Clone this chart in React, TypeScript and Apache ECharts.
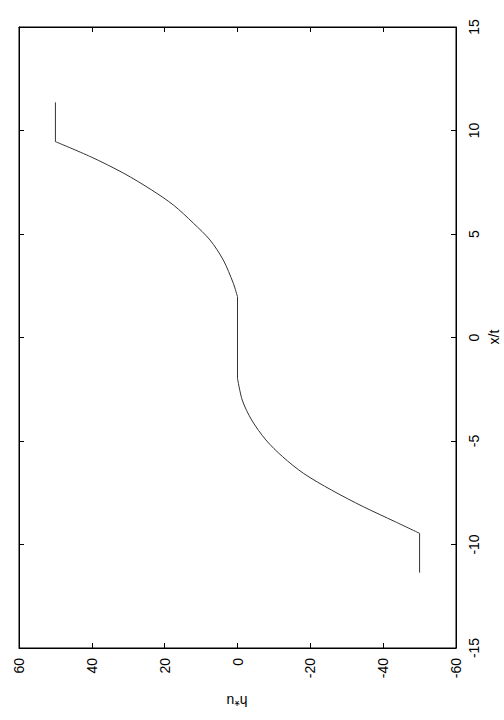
import React, { useEffect, useRef } from "react";
import * as echarts from "echarts";

// x/t values and h*u values
const xtTopFlat = [9.46, 11.36];
const huTopFlat = [50, 50];

const xtUpper = [1.97, 2.62, 3.74, 4.71, 5.52, 6.4, 7.13, 7.93, 8.73, 9.46];
const huUpper = [0, 1.15, 3.9, 7.55, 12.1, 17.6, 23.6, 31.2, 40.3, 50];

const xtMidFlat = [-1.97, 1.97];
const huMidFlat = [0, 0];

const xtLower = [-9.46, -8.9, -8.17, -7.37, -6.56, -5.76, -4.95, -3.99, -3.02, -1.97];
const huLower = [-50, -43.3, -34.5, -25.8, -18.1, -12.4, -7.8, -3.9, -1.3, 0];

const xtBottomFlat = [-11.36, -9.46];
const huBottomFlat = [-50, -50];

const huTicks = { min: -60, max: 60, interval: 20 };
const xtTicks = { min: -15, max: 15, interval: 5 };

const FONT = "Liberation Sans";

function pairs(hu: number[], xt: number[]) {
  return hu.map((h, i) => [h, xt[i]]);
}

export default function App() {
  const ref = useRef<HTMLDivElement>(null);
  useEffect(() => {
    if (!ref.current) return;
    const chart = echarts.init(ref.current, null, { renderer: "svg" });
    const axisLine = { show: true, onZero: false, lineStyle: { color: "#000", width: 1 } };
    const axisTick = { show: true, inside: true, length: 5, lineStyle: { color: "#000", width: 1 } };
    const label = { rotate: 90, fontSize: 14, color: "#000", fontFamily: FONT };
    const lineStyle = { color: "#333", width: 1 };
    const mk = (hu: number[], xt: number[], smooth: boolean | number) => ({
      type: "line",
      data: pairs(hu, xt),
      showSymbol: false,
      symbol: "none",
      smooth,
      lineStyle,
      xAxisIndex: 0,
      yAxisIndex: 0,
    });
    chart.setOption({
      animation: false,
      backgroundColor: "#fff",
      grid: {
        left: 19,
        right: 48,
        top: 27,
        bottom: 72,
        show: true,
        borderColor: "#000",
        borderWidth: 1,
      },
      xAxis: [
        {
          type: "value",
          position: "bottom",
          inverse: true,
          ...huTicks,
          axisLine,
          axisTick,
          axisLabel: { ...label, margin: 10 },
          splitLine: { show: false },
        },
        {
          type: "value",
          position: "top",
          inverse: true,
          ...huTicks,
          axisLine,
          axisTick,
          axisLabel: { show: false },
          splitLine: { show: false },
        },
      ],
      yAxis: [
        {
          type: "value",
          position: "right",
          ...xtTicks,
          axisLine,
          axisTick,
          axisLabel: { ...label, margin: 11 },
          splitLine: { show: false },
        },
        {
          type: "value",
          position: "left",
          ...xtTicks,
          axisLine,
          axisTick,
          axisLabel: { show: false },
          splitLine: { show: false },
        },
      ],
      graphic: [
        {
          type: "text",
          x: 237,
          y: 701,
          rotation: Math.PI,
          style: {
            text: "h*u",
            fontSize: 14,
            fontFamily: FONT,
            fill: "#000",
            align: "center",
            verticalAlign: "middle",
          },
        },
        {
          type: "text",
          x: 494,
          y: 337,
          rotation: Math.PI / 2,
          style: {
            text: "x/t",
            fontSize: 14,
            fontFamily: FONT,
            fill: "#000",
            align: "center",
            verticalAlign: "middle",
          },
        },
      ],
      series: [
        mk(huTopFlat, xtTopFlat, false),
        mk(huUpper, xtUpper, 0.3),
        mk(huMidFlat, xtMidFlat, false),
        mk(huLower, xtLower, 0.3),
        mk(huBottomFlat, xtBottomFlat, false),
      ],
    });
    return () => chart.dispose();
  }, []);
  return (
    <div
      ref={ref}
      style={{ position: "fixed", left: 0, top: 0, width: 504, height: 720 }}
    />
  );
}
